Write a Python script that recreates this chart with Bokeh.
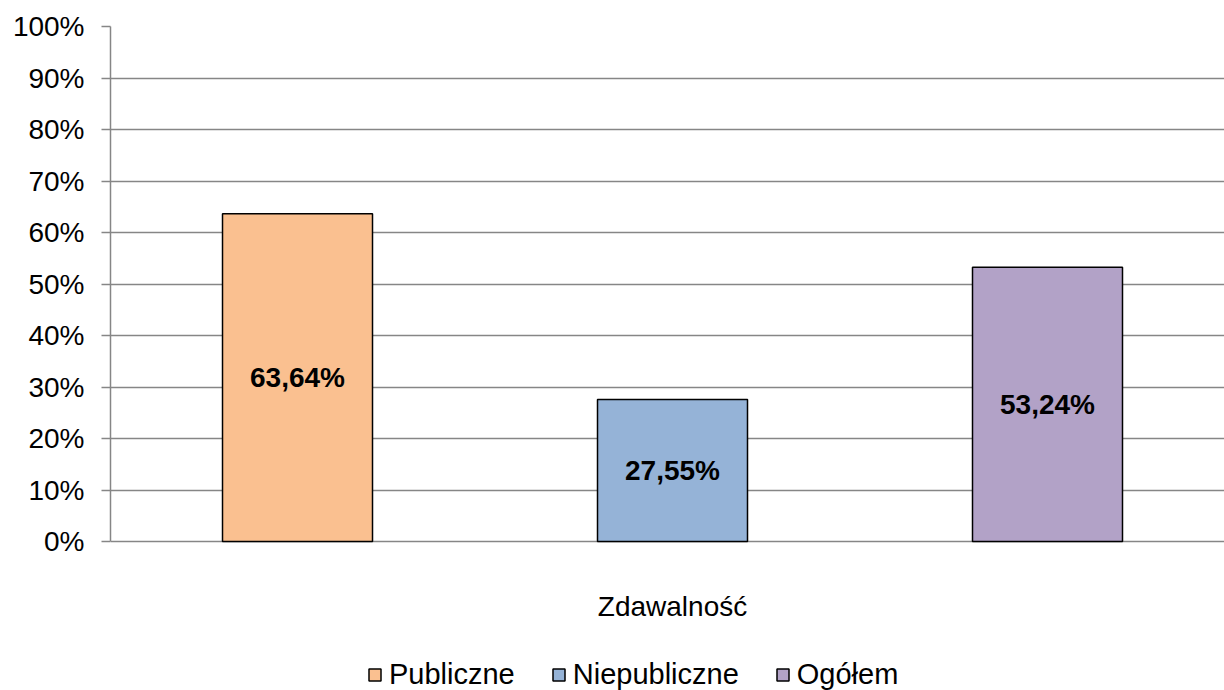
from bokeh.plotting import figure
from bokeh.models import (ColumnDataSource, FixedTicker, PrintfTickFormatter,
                          Legend, LegendItem, Range1d, Label)
from bokeh.core.properties import value
from bokeh.embed import file_html
from bokeh.resources import INLINE

series = ["Publiczne", "Niepubliczne", "Ogółem"]
values = [63.64, 27.55, 53.24]
colors = ["#FAC090", "#95B3D7", "#B2A2C7"]
category = "Zdawalność"
y_ticks = [0, 10, 20, 30, 40, 50, 60, 70, 80, 90, 100]

FONT = "Liberation Sans"
GRID = "#868686"
FS = "28px"

W, H = 1224, 690
LEFT, TOP, ZERO_Y = 110, 26, 541
# extend the value range below 0 so the frame also hosts category label and legend
px_per_unit = (ZERO_Y - TOP) / 100.0
y_low = -(H - ZERO_Y) / px_per_unit

xs = [0, 1, 2]
labels = [f"{v:.2f}".replace(".", ",") + "%" for v in values]
src = ColumnDataSource(dict(x=xs, top=values, half=[v / 2 for v in values],
                            color=colors, label=labels, name=series))

p = figure(width=W, height=H, output_backend="svg", toolbar_location=None,
           x_range=Range1d(-0.4987, 2.4720), y_range=Range1d(y_low, 100),
           min_border_left=LEFT, min_border_right=0, min_border_top=TOP,
           min_border_bottom=0)
p.outline_line_color = None
p.background_fill_color = "white"

renderers = []
for i in range(3):
    r = p.vbar(x=[xs[i]], top=[values[i]], width=0.4, bottom=0,
               fill_color=colors[i], line_color="black", line_width=1.5)
    renderers.append(r)

p.text(x="x", y="half", text="label", source=src, text_align="center",
       text_baseline="middle", text_font=value(FONT), text_font_size=FS,
       text_font_style="bold", text_color="black")

# y axis
p.yaxis.ticker = FixedTicker(ticks=y_ticks)
p.yaxis.bounds = (0, 100)
p.yaxis.formatter = PrintfTickFormatter(format="%d%%")
p.yaxis.axis_line_color = GRID
p.yaxis.axis_line_width = 1.5
p.yaxis.major_tick_line_color = GRID
p.yaxis.major_tick_line_width = 1.5
p.yaxis.major_tick_in = 0
p.yaxis.major_tick_out = 9
p.yaxis.minor_tick_line_color = None
p.yaxis.major_label_standoff = 17
p.yaxis.major_label_text_font = FONT
p.yaxis.major_label_text_font_size = FS
p.yaxis.major_label_text_color = "black"

p.xaxis.visible = False
p.xgrid.grid_line_color = None
p.ygrid.ticker = FixedTicker(ticks=y_ticks)
p.ygrid.grid_line_color = GRID
p.ygrid.grid_line_width = 1.5

# category label under the bars
p.add_layout(Label(x=1, y=H - 606, x_units="data", y_units="screen", text=category,
                   text_align="center", text_baseline="middle",
                   text_font=FONT, text_font_size=FS, text_color="black"))

legend = Legend(items=[LegendItem(label=series[i], renderers=[renderers[i]]) for i in range(3)],
                orientation="horizontal", location=(257, -1),
                label_text_font=FONT, label_text_font_size="29px",
                label_text_color="black", glyph_width=15, glyph_height=15,
                label_standoff=7, spacing=36, padding=0, margin=0,
                border_line_color=None, background_fill_alpha=0)
p.add_layout(legend, "center")

open("out.html", "w").write(file_html(p, INLINE))
